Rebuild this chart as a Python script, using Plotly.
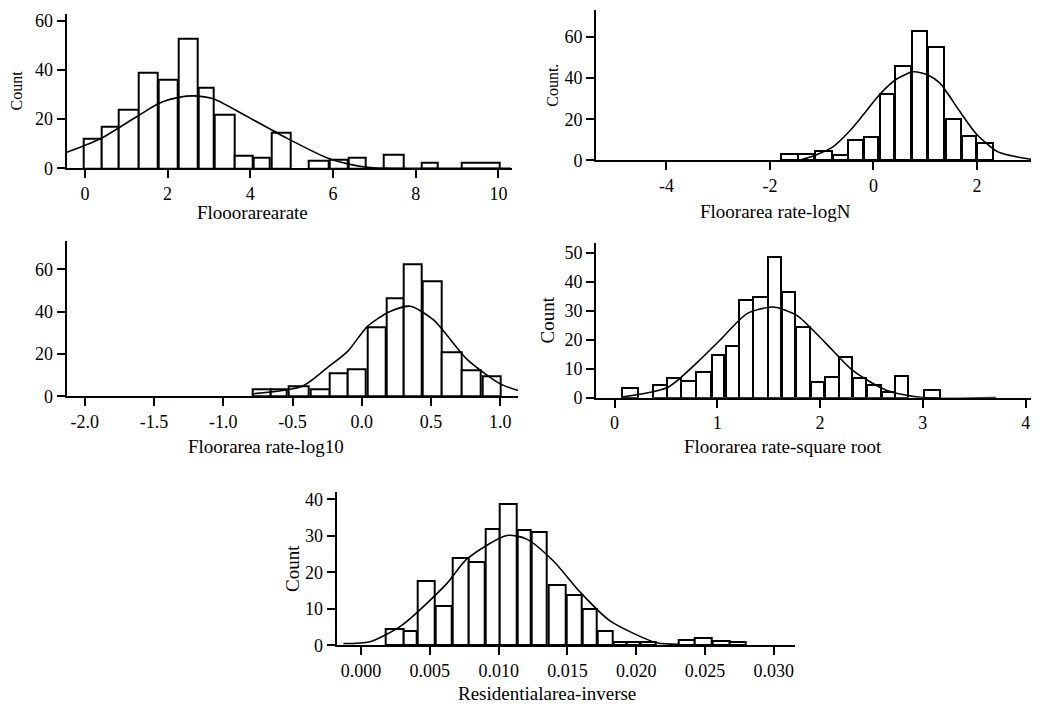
import numpy as np
import plotly.graph_objects as go

# ---------------- data ----------------
# Panel 1: Flooorarearate
p1_left = [-0.04, 0.40, 0.82, 1.31, 1.78, 2.26, 2.74, 3.15, 3.63, 4.07, 4.51, 5.40, 5.93, 6.37, 7.22, 8.15, 9.10]
p1_right = [0.40, 0.82, 1.29, 1.76, 2.24, 2.73, 3.12, 3.61, 4.05, 4.46, 4.97, 5.90, 6.35, 6.78, 7.70, 8.53, 10.02]
p1_count = [12, 17, 24, 39, 36, 53, 33, 22, 5, 4.5, 14.5, 3, 3.6, 4.4, 5.5, 2.5, 2.5]
p1_kde_x = [-0.44, 0.36, 1.25, 1.81, 2.30, 2.62, 3.10, 3.91, 4.88, 5.85, 6.41, 6.90, 7.5, 10.3]
p1_kde_y = [6.5, 11.9, 21.0, 26.6, 29.0, 29.5, 28.3, 21.2, 12.3, 4.3, 1.6, 0.3, 0, 0]

# Panel 2: Floorarea rate-logN
p2_left = [-1.78, -1.46, -1.13, -0.78, -0.49, -0.19, 0.12, 0.42, 0.75, 1.06, 1.40, 1.72, 2.01]
p2_right = [-1.46, -1.15, -0.80, -0.50, -0.20, 0.09, 0.40, 0.73, 1.04, 1.36, 1.69, 1.99, 2.31]
p2_count = [3.2, 3.2, 4.8, 2.8, 10, 11.3, 32.2, 45.8, 62.6, 54.9, 20.1, 11.8, 8.5]
p2_kde_x = [-1.44, -1.1, -0.78, -0.45, -0.2, 0.12, 0.45, 0.77, 1.05, 1.28, 1.67, 1.99, 2.38, 2.6, 3.18]
p2_kde_y = [0, 2.8, 6.6, 14.5, 22, 32, 39.5, 43, 41.5, 37.6, 23.7, 12.8, 4.5, 2.6, 0]

# Panel 3: Floorarea rate-log10
p3_left = [-0.79, -0.66, -0.53, -0.37, -0.23, -0.10, 0.04, 0.18, 0.30, 0.44, 0.58, 0.72, 0.87]
p3_right = [-0.66, -0.54, -0.38, -0.23, -0.10, 0.03, 0.17, 0.30, 0.43, 0.58, 0.72, 0.86, 1.00]
p3_count = [3.3, 3.3, 4.7, 3.3, 10.9, 12.9, 32.7, 46.2, 62.5, 54.4, 20.6, 12.1, 9.6]
p3_kde_x = [-0.79, -0.43, -0.25, -0.10, 0.04, 0.20, 0.35, 0.52, 0.76, 1.00, 1.13]
p3_kde_y = [1.2, 4.8, 13.5, 21.4, 33.0, 40.0, 42.6, 36.0, 17.5, 5.9, 2.8]

# Panel 4: Floorarea rate-square root
p4_left = [0.07, 0.37, 0.51, 0.65, 0.79, 0.95, 1.08, 1.21, 1.35, 1.49, 1.63, 1.77, 1.91, 2.05, 2.18, 2.32, 2.46, 2.60, 2.73, 3.01]
p4_right = [0.23, 0.51, 0.65, 0.79, 0.94, 1.07, 1.21, 1.35, 1.49, 1.62, 1.76, 1.90, 2.04, 2.18, 2.31, 2.45, 2.59, 2.73, 2.86, 3.17]
p4_count = [3.3, 4.5, 6.8, 5.8, 9.0, 14.7, 17.8, 33.6, 34.7, 48.6, 36.4, 24.3, 5.3, 7.0, 14.1, 6.7, 4.4, 2.1, 7.6, 2.5]
p4_kde_x = [0.07, 0.52, 0.80, 1.03, 1.29, 1.54, 1.77, 2.05, 2.32, 2.65, 3.00, 3.71]
p4_kde_y = [0.2, 3.6, 12.0, 20.0, 29.0, 31.3, 28.5, 19.0, 9.3, 2.5, 0, 0]

# Panel 5: Residentialarea-inverse
p5_left = [0.00182, 0.00313, 0.00410, 0.00543, 0.00664, 0.00785, 0.00906, 0.01010, 0.01136, 0.01238,
           0.01361, 0.01495, 0.01608, 0.01720, 0.01834, 0.01931, 0.02032, 0.02306, 0.02427, 0.02553, 0.02682]
p5_right = [0.00308, 0.00405, 0.00538, 0.00659, 0.00780, 0.00901, 0.01010, 0.01130, 0.01233, 0.01349,
            0.01487, 0.01604, 0.01713, 0.01827, 0.01931, 0.02028, 0.02144, 0.02427, 0.02548, 0.02677, 0.02798]
p5_count = [4.6, 3.8, 17.5, 10.8, 23.8, 22.7, 31.8, 38.6, 31.7, 31.0,
            16.4, 13.9, 9.9, 3.9, 1.0, 1.0, 1.0, 1.6, 1.9, 1.2, 1.0]
p5_kde_x = [-0.00128, 0.00065, 0.00296, 0.00623, 0.00768, 0.01059, 0.01204, 0.01398, 0.01592, 0.01810, 0.02149, 0.02320]
p5_kde_y = [0.5, 1.0, 5.5, 16.9, 23.6, 30.1, 29.1, 23.1, 14.6, 6.7, 0.7, 0.3]

# Titles and ticks
x_titles = ["Flooorarearate", "Floorarea rate-logN", "Floorarea rate-log10",
            "Floorarea rate-square root", "Residentialarea-inverse"]
y_titles = ["Count", "Count.", "", "Count", "Count"]

p1_xticks = [0, 2, 4, 6, 8, 10]
p1_xtext = ["0", "2", "4", "6", "8", "10"]
p2_xticks = [-4, -2, 0, 2]
p2_xtext = ["-4", "-2", "0", "2"]
p3_xticks = [-2.0, -1.5, -1.0, -0.5, 0.0, 0.5, 1.0]
p3_xtext = ["-2.0", "-1.5", "-1.0", "-0.5", "0.0", "0.5", "1.0"]
p4_xticks = [0, 1, 2, 3, 4]
p4_xtext = ["0", "1", "2", "3", "4"]
p5_xticks = [0.000, 0.005, 0.010, 0.015, 0.020, 0.025, 0.030]
p5_xtext = ["0.000", "0.005", "0.010", "0.015", "0.020", "0.025", "0.030"]

p1_yticks = [0, 20, 40, 60]
p2_yticks = [0, 20, 40, 60]
p3_yticks = [0, 20, 40, 60]
p4_yticks = [0, 10, 20, 30, 40, 50]
p5_yticks = [0, 10, 20, 30, 40]

# ---------------- layout geometry (pixels in the page) ----------------
OFF = 8                      # default page margin of the html body
W, H = 1039 - OFF, 717 - OFF  # figure size so it ends at the window edge
panels = [
    dict(left=p1_left, right=p1_right, count=p1_count, kx=p1_kde_x, ky=p1_kde_y,
         xt=p1_xticks, xtt=p1_xtext, yt=p1_yticks, xr=[-0.44, 10.32], yr=[0, 63],
         px=(66.7, 511.7), py=(11.7, 169), tpos=(252.5, 214), ys=8, yfs=16),
    dict(left=p2_left, right=p2_right, count=p2_count, kx=p2_kde_x, ky=p2_kde_y,
         xt=p2_xticks, xtt=p2_xtext, yt=p2_yticks, xr=[-5.36, 3.18], yr=[0, 73],
         px=(596, 1038), py=(3.3, 161), tpos=(775, 213), ys=2, yfs=16),
    dict(left=p3_left, right=p3_right, count=p3_count, kx=p3_kde_x, ky=p3_kde_y,
         xt=p3_xticks, xtt=p3_xtext, yt=p3_yticks, xr=[-2.13, 1.13], yr=[0, 73.3],
         px=(66.7, 518.3), py=(243.3, 401), tpos=(266, 452), ys=7, yfs=19),
    dict(left=p4_left, right=p4_right, count=p4_count, kx=p4_kde_x, ky=p4_kde_y,
         xt=p4_xticks, xtt=p4_xtext, yt=p4_yticks, xr=[-0.18, 4.12], yr=[0, 53.4],
         px=(596, 1038), py=(245, 402.3), tpos=(783, 452), ys=5, yfs=19),
    dict(left=p5_left, right=p5_right, count=p5_count, kx=p5_kde_x, ky=p5_kde_y,
         xt=p5_xticks, xtt=p5_xtext, yt=p5_yticks, xr=[-0.00177, 0.03154], yr=[0, 42],
         px=(336.7, 795), py=(498.3, 654.3), tpos=(547, 703), ys=0, yfs=19),
]

FONT = "Liberation Serif, Times New Roman, serif"
FS = 18
TFS = 19
fig = go.Figure()
layout = dict(
    width=W, height=H,
    margin=dict(l=0, r=0, t=0, b=0),
    paper_bgcolor="white", plot_bgcolor="white",
    showlegend=False,
    font=dict(family=FONT, size=FS, color="black"),
    bargap=0,
)
annotations = []

for i, p in enumerate(panels):
    n = i + 1
    xa = "x" if n == 1 else f"x{n}"
    ya = "y" if n == 1 else f"y{n}"
    left = np.array(p["left"])
    right = np.array(p["right"])
    fig.add_trace(go.Bar(
        x=(left + right) / 2, y=p["count"], width=right - left,
        marker=dict(color="white", line=dict(color="black", width=2)),
        xaxis=xa, yaxis=ya, hoverinfo="skip"))
    fig.add_trace(go.Scatter(
        x=p["kx"], y=p["ky"], mode="lines",
        line=dict(color="black", width=1.6, shape="spline", smoothing=0.7),
        xaxis=xa, yaxis=ya, hoverinfo="skip"))
    axcommon = dict(showline=True, linecolor="black", linewidth=2,
                    ticks="outside", ticklen=8, tickwidth=1.5, tickcolor="black",
                    showgrid=False, zeroline=False,
                    tickfont=dict(family=FONT, size=FS, color="black"))
    x0, x1 = (p["px"][0] - OFF) / W, (p["px"][1] - OFF) / W
    y0, y1 = 1 - (p["py"][1] - OFF) / H, 1 - (p["py"][0] - OFF) / H
    layout["xaxis" if n == 1 else f"xaxis{n}"] = dict(
        axcommon, domain=[max(0, x0), min(1, x1)], range=p["xr"],
        anchor=ya, tickmode="array", tickvals=p["xt"], ticktext=p["xtt"])
    layout["yaxis" if n == 1 else f"yaxis{n}"] = dict(
        axcommon, domain=[max(0, y0), min(1, y1)], range=p["yr"],
        anchor=xa, tickmode="array", tickvals=p["yt"],
        title=dict(text=y_titles[i], standoff=p["ys"], font=dict(family=FONT, size=p["yfs"])))
    # x-axis title (positioned as in the reference, not centred on the axis)
    annotations.append(dict(
        text=x_titles[i], xref="paper", yref="paper",
        x=(p["tpos"][0] - OFF) / W, y=1 - (p["tpos"][1] - OFF) / H,
        xanchor="center", yanchor="middle", showarrow=False,
        font=dict(family=FONT, size=TFS, color="black")))

layout["annotations"] = annotations
fig.update_layout(**layout)
fig.write_html("out.html")
